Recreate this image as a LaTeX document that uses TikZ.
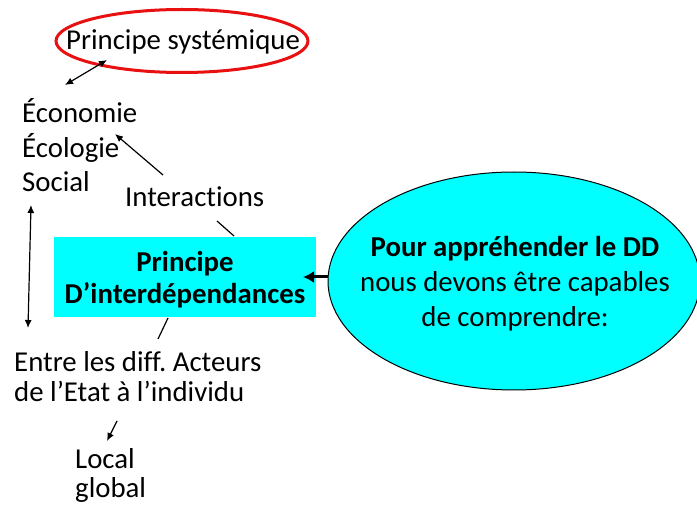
\documentclass[tikz,border=0pt]{standalone}
\usepackage{fontspec}
\setmainfont{Carlito}[Ligatures={NoCommon,NoRare,NoDiscretionary}]
\usetikzlibrary{arrows.meta,shapes.geometric}
\definecolor{boxcyan}{RGB}{0,255,255}
\definecolor{ovalred}{RGB}{232,16,16}
\frenchspacing
\begin{document}
\begin{tikzpicture}[x=1pt,y=-1pt,
  txt/.style={inner sep=0pt, font=\fontsize{28.8}{34}\selectfont},
  boldtxt/.style={inner sep=0pt, align=center, font=\fontsize{28.8}{32}\selectfont\bfseries},
  ovaltxt/.style={inner sep=0pt, align=center, font=\fontsize{28.8}{35}\selectfont},
  conn/.style={line width=1.2pt},
  arr/.style={conn, -{Latex[length=8pt,width=7pt]}},
  dblarr/.style={conn, {Latex[length=8pt,width=7pt]}-{Latex[length=8pt,width=7pt]}},
  thickarr/.style={line width=3pt, -{Latex[length=11pt,width=12pt]}}]
\useasboundingbox (0,0) rectangle (697,513);

% red oval with title
\node[ellipse, draw=ovalred, line width=3pt, minimum width=252pt, minimum height=63pt, inner sep=0pt] (sysoval) at (182,41) {};
\node[txt, anchor=base] (sys) at (183,50) {Principe systémique};

% left column
\node[txt, anchor=base west] (eco) at (22,123) {Économie};
\node[txt, anchor=base west] (ecol) at (22,158) {Écologie};
\node[txt, anchor=base west] (soc) at (22,192) {Social};
\node[txt, anchor=base west] (inter) at (125,207) {Interactions};

% central box
\node[fill=boxcyan, minimum width=262pt, minimum height=80pt, inner sep=0pt] (box) at (185,277) {};
\node[boldtxt] (boxtext) at (185,280) {Principe\\D’interdépendances};

% right ellipse
\node[ellipse, draw=black, line width=1pt, fill=boxcyan, minimum width=372pt, minimum height=218pt, inner sep=0pt] (dd) at (514,281) {};
\node[ovaltxt] (ddtext) at (515,284) {\textbf{Pour appréhender le DD}\\nous devons être capables\\de comprendre:};

% bottom texts
\node[txt, anchor=base west] (entre) at (14,372) {Entre les diff. Acteurs};
\node[txt, anchor=base west] (etat) at (14,402) {de l’Etat à l’individu};
\node[txt, anchor=base west] (local) at (75,468) {Local};
\node[txt, anchor=base west] (global) at (75,497) {global};

% connector ends
\coordinate (sysend) at (107,60);
\coordinate (ecoend) at (65,85);
\coordinate (interstart) at (163,175);
\coordinate (ecotip) at (115,134);
\coordinate (intbot) at (217,221);
\coordinate (boxtop) at (234,236);
\coordinate (boxbot) at (168,318);
\coordinate (entretop) at (158,339);
\coordinate (vtop) at (31,205);
\coordinate (vbot) at (28,328);
\coordinate (etatbot) at (117,421);
\coordinate (localtop) at (107,441);
\coordinate (thicktip) at (303,277);

% connectors
\draw[dblarr] (sysend) -- (ecoend);
\draw[arr] (interstart) -- (ecotip);
\draw[conn] (intbot) -- (boxtop);
\draw[conn] (boxbot) -- (entretop);
\draw[dblarr] (vtop) -- (vbot);
\draw[arr] (etatbot) -- (localtop);
\draw[thickarr] (thicktip -| dd.west) -- (thicktip);
\end{tikzpicture}
\end{document}
